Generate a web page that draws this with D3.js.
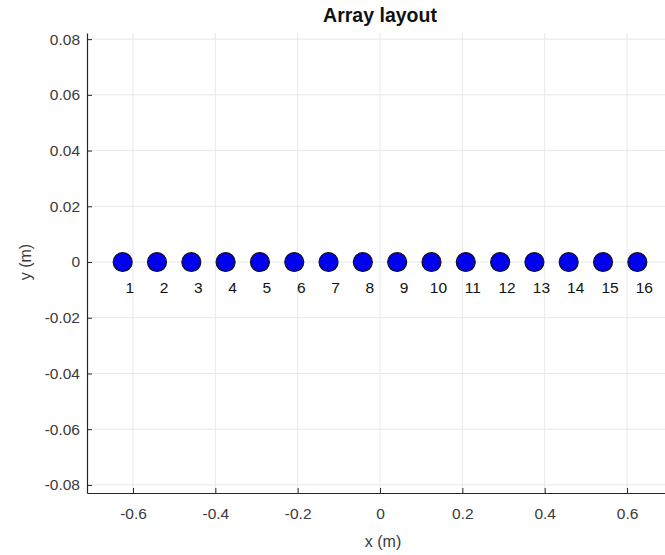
<!DOCTYPE html>
<html>
<head>
<meta charset="utf-8">
<script src="https://cdn.jsdelivr.net/npm/d3@7"></script>
<style>
  html, body { margin: 0; padding: 0; background: #fff; }
  svg { display: block; font-family: "Liberation Sans", Arial, Helvetica, sans-serif; }
</style>
</head>
<body>
<svg id="chart" width="665" height="555"></svg>
<script>
// Element positions along the x axis (m), uniform linear array
const elementIds = [1, 2, 3, 4, 5, 6, 7, 8, 9, 10, 11, 12, 13, 14, 15, 16];
const elementX = [-0.625, -0.5417, -0.4583, -0.375, -0.2917, -0.2083, -0.125, -0.0417,
                  0.0417, 0.125, 0.2083, 0.2917, 0.375, 0.4583, 0.5417, 0.625];
const elementY = [0, 0, 0, 0, 0, 0, 0, 0, 0, 0, 0, 0, 0, 0, 0, 0];
const xTicks = [-0.6, -0.4, -0.2, 0, 0.2, 0.4, 0.6];
const yTicks = [-0.08, -0.06, -0.04, -0.02, 0, 0.02, 0.04, 0.06, 0.08];

const svg = d3.select("#chart");
const plotLeft = 87, plotRight = 672, plotTop = 33, plotBottom = 493;

const x = d3.scaleLinear().domain([-0.7117, 0.7092]).range([plotLeft, plotRight]);
const y = d3.scaleLinear().domain([-0.0829, 0.0822]).range([plotBottom, plotTop]);

// grid
const grid = svg.append("g");
grid.selectAll("line.gx").data(xTicks).join("line")
  .attr("x1", d => x(d)).attr("x2", d => x(d))
  .attr("y1", plotTop).attr("y2", plotBottom)
  .attr("stroke", "#e8e8e8").attr("stroke-width", 1);
grid.selectAll("line.gy").data(yTicks).join("line")
  .attr("y1", d => y(d)).attr("y2", d => y(d))
  .attr("x1", plotLeft).attr("x2", plotRight)
  .attr("stroke", "#e8e8e8").attr("stroke-width", 1);

// axes (ticks pointing inward)
const xAxis = d3.axisBottom(x).tickValues(xTicks).tickSizeInner(-5).tickSizeOuter(0)
  .tickPadding(15).tickFormat(d => String(+d.toFixed(1)));
const yAxis = d3.axisLeft(y).tickValues(yTicks).tickSizeInner(-5).tickSizeOuter(0)
  .tickPadding(7).tickFormat(d => d === 0 ? "0" : d.toFixed(2));

const gx = svg.append("g").attr("transform", `translate(0,${plotBottom})`).call(xAxis);
const gy = svg.append("g").attr("transform", `translate(${plotLeft},0)`).call(yAxis);
[gx, gy].forEach(g => {
  g.select(".domain").attr("stroke", "#262626").attr("stroke-width", 1.2);
  g.selectAll(".tick line").attr("stroke", "#262626");
  g.selectAll(".tick text").attr("fill", "#3a3a3a").style("font-size", "15.5px")
    .style("font-family", "\"Liberation Sans\", Arial, sans-serif");
});

// markers
svg.append("g").selectAll("circle").data(elementX).join("circle")
  .attr("cx", d => x(d)).attr("cy", (d, i) => y(elementY[i]))
  .attr("r", 9.5)
  .attr("fill", "#0000ee").attr("stroke", "#111").attr("stroke-width", 1.2);

// element index labels
svg.append("g").selectAll("text").data(elementIds).join("text")
  .attr("x", (d, i) => x(elementX[i]) + 7)
  .attr("y", (d, i) => y(elementY[i]) + 31)
  .attr("text-anchor", "middle")
  .attr("fill", "#111").style("font-size", "15.5px")
  .text(d => d);

// title and axis labels
svg.append("text").attr("x", 380).attr("y", 22).attr("text-anchor", "middle")
  .style("font-size", "19.5px").style("font-weight", "bold").attr("fill", "#111")
  .text("Array layout");
svg.append("text").attr("x", 383).attr("y", 547).attr("text-anchor", "middle")
  .style("font-size", "16px").attr("fill", "#3a3a3a").text("x (m)");
svg.append("text").attr("transform", `translate(31,${y(0)}) rotate(-90)`)
  .attr("text-anchor", "middle").style("font-size", "16px").attr("fill", "#3a3a3a")
  .text("y (m)");
</script>
</body>
</html>
